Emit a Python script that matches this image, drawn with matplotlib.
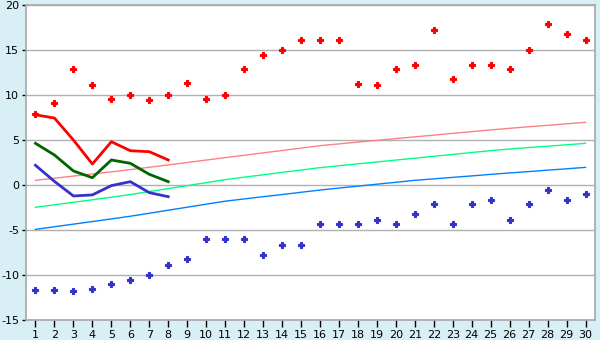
import numpy as np
import matplotlib.pyplot as plt

plt.rcParams["axes.unicode_minus"] = False

# Categories
days = list(range(1, 31))

# Scatter series (upper / lower points)
upper = [7.85, 9.07, 12.85, 11.07, 9.6, 10.0, 9.4, 10.0, 11.3, 9.6,
         10.0, 12.85, 14.4, 15.0, 16.07, 16.07, 16.07, 11.18, 11.07, 12.85,
         13.3, 17.2, 11.74, 13.3, 13.3, 12.85, 15.0, 17.85, 16.74, 16.07]
lower = [-11.7, -11.7, -11.8, -11.6, -11.04, -10.6, -10.04, -8.93, -8.26, -6.04,
         -6.04, -6.04, -7.8, -6.7, -6.7, -4.37, -4.37, -4.37, -3.93, -4.37,
         -3.26, -2.15, -4.37, -2.15, -1.7, -3.93, -2.15, -0.6, -1.7, -1.04]

# Thick lines (first 8 days)
red_line = [7.8, 7.44, 5.0, 2.33, 4.81, 3.81, 3.7, 2.78]
green_line = [4.63, 3.33, 1.56, 0.81, 2.78, 2.41, 1.19, 0.37]
blue_line = [2.19, 0.4, -1.22, -1.1, -0.07, 0.37, -0.85, -1.3]

# Thin trend lines
pink_trend = [0.52, 0.75, 0.99, 1.22, 1.46, 1.71, 1.97, 2.23, 2.50, 2.77,
              3.04, 3.30, 3.57, 3.83, 4.10, 4.37, 4.57, 4.77, 4.96, 5.16,
              5.35, 5.54, 5.74, 5.93, 6.12, 6.30, 6.47, 6.63, 6.80, 6.96]
green_trend = [-2.48, -2.20, -1.92, -1.64, -1.36, -1.06, -0.73, -0.40, -0.07, 0.26,
               0.60, 0.87, 1.13, 1.40, 1.66, 1.93, 2.14, 2.35, 2.56, 2.77,
               2.98, 3.19, 3.40, 3.61, 3.82, 4.00, 4.16, 4.31, 4.47, 4.63]
blue_trend = [-4.93, -4.64, -4.35, -4.06, -3.77, -3.47, -3.14, -2.80, -2.47, -2.13,
              -1.80, -1.55, -1.30, -1.06, -0.81, -0.56, -0.34, -0.13, 0.09, 0.30,
              0.52, 0.68, 0.85, 1.01, 1.18, 1.34, 1.49, 1.65, 1.80, 1.96]

fig = plt.figure(figsize=(6, 3.4), dpi=100, facecolor="#D9EFF6")
ax = fig.add_axes([26 / 600, 20 / 340, 569 / 600, 315 / 340])
ax.set_facecolor("white")

ax.set_xlim(0.5, 30.5)
ax.set_ylim(-15, 20)
ax.set_yticks(range(-15, 21, 5))
ax.set_xticks(days)
ax.grid(axis="y", color="#B0B0B0", lw=1)
ax.set_axisbelow(True)

for s in ax.spines.values():
    s.set_color("#A8A8A8")
    s.set_linewidth(1.2)

ax.tick_params(axis="y", length=3, width=1, color="black", labelsize=8, pad=2)
ax.tick_params(axis="x", length=5, width=1, color="black", labelsize=8, pad=2)

# trend lines
ax.plot(days, pink_trend, color="#FF8080", lw=1)
ax.plot(days, green_trend, color="#00FF80", lw=1)
ax.plot(days, blue_trend, color="#0080FF", lw=1)

# thick lines
n = len(red_line)
ax.plot(days[:n], red_line, color="#FF0000", lw=2)
ax.plot(days[:n], green_line, color="#006400", lw=2)
ax.plot(days[:n], blue_line, color="#3333CC", lw=2)

# points
ax.plot(days, upper, ls="none", marker="P", ms=5, color="#FF0000", mew=0.8)
ax.plot(days, lower, ls="none", marker="P", ms=5, color="#3333CC", mew=0.8)

fig.savefig("out.png", dpi=100, facecolor=fig.get_facecolor())
